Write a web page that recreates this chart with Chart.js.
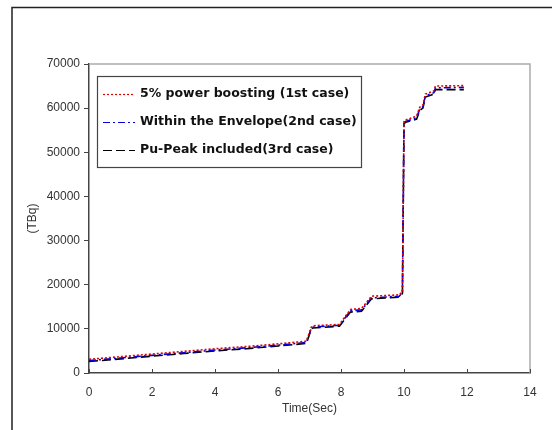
<!DOCTYPE html>
<html><head><meta charset="utf-8">
<script src="https://cdn.jsdelivr.net/npm/chart.js@4"></script>
<style>html,body{margin:0;padding:0;background:#fff}#c{display:block}</style>
</head><body>
<canvas id="c" width="552" height="430"></canvas>
<script>
const times   = [0, 1, 2, 3, 4, 5, 6, 6.9, 7.05, 7.1, 7.95, 8.3, 8.65, 8.97, 9.85, 9.95, 10.0, 10.05, 10.4, 10.5, 10.6, 10.68, 10.95, 11.0, 11.9];
const case1   = [3100, 3700, 4300, 4900, 5500, 6000, 6600, 7200, 10300, 10700, 11000, 14400, 14600, 17400, 17700, 18500, 57000, 57300, 58200, 60200, 60700, 63200, 63900, 65000, 65100];
const case2   = [2800, 3400, 4000, 4600, 5200, 5700, 6300, 6900, 10000, 10400, 10800, 14100, 14300, 17000, 17400, 18200, 56800, 57000, 57800, 59800, 60300, 62800, 63500, 64600, 64700];
const case3   = [2600, 3200, 3800, 4400, 5000, 5500, 6100, 6700, 9800, 10200, 10600, 13800, 14000, 16800, 17200, 18000, 56500, 56800, 57500, 59500, 60000, 62500, 63200, 64200, 64200];
const seriesNames = ['5% power boosting (1st case)', 'Within the Envelope(2nd case)', 'Pu-Peak included(3rd case)'];
const xTicks = [0, 2, 4, 6, 8, 10, 12, 14];
const yTicks = [0, 10000, 20000, 30000, 40000, 50000, 60000, 70000];

const pts = v => times.map((t, i) => ({x: t, y: v[i]}));
const styles = [
  {color: '#e00000', dash: [2, 2]},
  {color: '#0000e0', dash: [7, 3, 2, 3]},
  {color: '#000000', dash: [9, 4]}
];
const series = [case1, case2, case3];

const decor = {
  id: 'decor',
  beforeDraw(chart) {
    const c = chart.ctx;
    c.save();
    c.fillStyle = '#fff';
    c.fillRect(0, 0, chart.width, chart.height);
    c.strokeStyle = '#222';
    c.lineWidth = 1.5;
    c.beginPath();
    c.moveTo(12, 430); c.lineTo(12, 7.5); c.lineTo(552, 7.5);
    c.stroke();
    c.restore();
  },
  afterDraw(chart) {
    const c = chart.ctx, a = chart.chartArea;
    c.save();
    c.strokeStyle = '#aaa';
    c.lineWidth = 1.5;
    c.beginPath();
    c.moveTo(a.left, a.top); c.lineTo(a.right, a.top); c.lineTo(a.right, a.bottom);
    c.stroke();
    const xs = chart.scales.x;
    c.strokeStyle = '#444';
    c.lineWidth = 1;
    xTicks.forEach(t => {
      const px = Math.round(xs.getPixelForValue(t)) + 0.5;
      c.beginPath(); c.moveTo(px, a.bottom); c.lineTo(px, a.bottom - 4); c.stroke();
    });
    const bx = 97.5, by = 76.5, bw = 264, bh = 91;
    c.strokeStyle = '#444';
    c.lineWidth = 1.2;
    c.strokeRect(bx, by, bw, bh);
    c.font = 'bold 12.5px "DejaVu Sans"';
    c.textBaseline = 'middle';
    c.fillStyle = '#111';
    const rows = [94, 122, 150];
    chart.data.datasets.forEach((ds, i) => {
      const y = rows[i];
      c.strokeStyle = ds.borderColor;
      c.setLineDash(ds.borderDash);
      c.lineWidth = 1.2;
      c.beginPath(); c.moveTo(103, y + 0.5); c.lineTo(135, y + 0.5); c.stroke();
      c.setLineDash([]);
      c.fillText(ds.label, 140, y);
    });
    c.restore();
  }
};

new Chart(document.getElementById('c'), {
  type: 'line',
  data: {
    datasets: series.map((v, i) => ({
      label: seriesNames[i],
      data: pts(v),
      borderColor: styles[i].color,
      borderDash: styles[i].dash,
      borderWidth: 1.6,
      pointRadius: 0,
      tension: 0,
      fill: false
    }))
  },
  options: {
    responsive: false,
    animation: false,
    devicePixelRatio: 1,
    layout: {padding: {left: 0, top: 64, right: 22, bottom: 0}},
    plugins: {legend: {display: false}, tooltip: {enabled: false}},
    scales: {
      x: {
        type: 'linear', min: 0, max: 14,
        afterBuildTicks: s => { s.ticks = xTicks.map(v => ({value: v})); },
        afterFit: s => { s.height = 57; },
        ticks: {font: {family: 'Liberation Sans', size: 12}, color: '#333', padding: 12, maxRotation: 0},
        grid: {drawOnChartArea: false, drawTicks: false},
        border: {color: '#444', width: 1.5},
        title: {display: true, text: 'Time(Sec)', font: {family: 'Liberation Sans', size: 12}, color: '#333', padding: {top: 0, bottom: 14}}
      },
      y: {
        min: 0, max: 70000,
        afterBuildTicks: s => { s.ticks = yTicks.map(v => ({value: v})); },
        afterFit: s => { s.width = 89; },
        ticks: {font: {family: 'Liberation Sans', size: 12}, color: '#333', padding: 4, callback: v => String(v)},
        grid: {drawOnChartArea: false, drawTicks: true, tickLength: 5, color: '#444'},
        border: {color: '#444', width: 1.5},
        title: {display: true, text: '(TBq)', font: {family: 'Liberation Sans', size: 12}, color: '#333', padding: {top: 25, bottom: 0}}
      }
    }
  },
  plugins: [decor]
});
</script>
</body></html>
